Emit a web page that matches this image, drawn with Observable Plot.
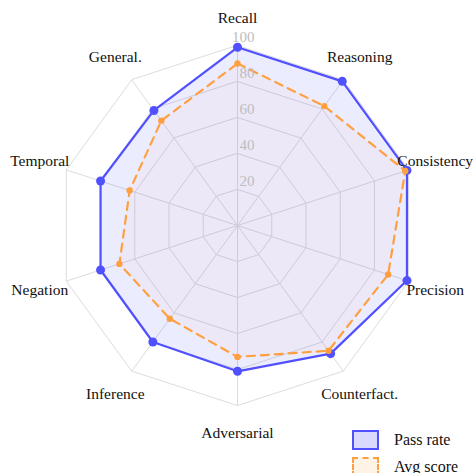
<!DOCTYPE html>
<html>
<head>
<meta charset="utf-8">
<script src="https://cdn.jsdelivr.net/npm/d3@7"></script>
<script src="https://cdn.jsdelivr.net/npm/@observablehq/plot@0.6"></script>
<style>
  html, body { margin: 0; padding: 0; background: #fff; }
  #wrap { position: relative; width: 473px; height: 473px; overflow: hidden; }
  #legend { position: absolute; left: 352px; top: 430px; font-family: "Liberation Serif", "Times New Roman", Times, serif; font-size: 16px; color: #111; }
  .row { display: flex; align-items: flex-start; height: 27px; line-height: 20px; }
  .sw { width: 27px; height: 20px; margin-right: 15px; box-sizing: border-box; }
  svg text { font-family: "Liberation Serif", "Times New Roman", Times, serif; }
</style>
</head>
<body>
<div id="wrap"></div>
<script>
const axes = ["Recall", "Reasoning", "Consistency", "Precision", "Counterfact.", "Adversarial", "Inference", "Negation", "Temporal", "General."];
const passRate = [99, 99, 99, 99, 88, 81, 80, 80, 80, 79];
const avgScore = [90, 82, 98, 88, 86, 73, 64, 69, 63, 72];
const tickValues = [20, 40, 60, 80, 100];
const seriesNames = ["Pass rate", "Avg score"];
const blue = "#5050ff";
const orange = "#ffa040";

const n = axes.length;
const ang = i => (i * 2 * Math.PI) / n;
const pt = (i, v) => ({ x: v * Math.sin(ang(i)), y: v * Math.cos(ang(i)) });

const rings = tickValues.flatMap(t => axes.map((a, i) => ({ ring: t, ...pt(i, t) })));
const spokes = axes.map((a, i) => ({ x1: 0, y1: 0, x2: pt(i, 100).x, y2: pt(i, 100).y }));
const labels = axes.map((a, i) => ({ label: a, ...pt(i, 115.5) }));
const passPts = passRate.map((v, i) => pt(i, v));
const avgPts = avgScore.map((v, i) => pt(i, v));
const tickPts = tickValues.map(t => ({ t, x: 0, y: t }));

const k = 1.8, cx = 237, cy = 225, W = 473, H = 473;
const serif = "'Liberation Serif', 'Times New Roman', Times, serif";

const chart = Plot.plot({
  width: W, height: H,
  margin: 0,
  x: { type: "linear", domain: [-cx / k, (W - cx) / k], range: [0, W], axis: null },
  y: { type: "linear", domain: [-(H - cy) / k, cy / k], range: [H, 0], axis: null },
  style: { fontFamily: serif, background: "transparent" },
  marks: [
    Plot.line(rings, { x: "x", y: "y", z: "ring", curve: "linear-closed", stroke: "#dcdcdc", strokeWidth: 1 }),
    Plot.link(spokes, { x1: "x1", y1: "y1", x2: "x2", y2: "y2", stroke: "#dcdcdc", strokeWidth: 1 }),
    Plot.line(passPts, { x: "x", y: "y", curve: "linear-closed", fill: blue, fillOpacity: 0.11, stroke: blue, strokeWidth: 2.2 }),
    Plot.dot(passPts, { x: "x", y: "y", r: 4.5, fill: blue, stroke: "none" }),
    Plot.line(avgPts, { x: "x", y: "y", curve: "linear-closed", fill: orange, fillOpacity: 0.04, stroke: orange, strokeWidth: 2.2, strokeDasharray: "8,6" }),
    Plot.dot(avgPts, { x: "x", y: "y", r: 3.2, fill: orange, stroke: "none" }),
    Plot.text(tickPts, { x: "x", y: "y", text: d => String(d.t), textAnchor: "end", dx: 17, dy: -8, fill: "#bdbdbd", fontSize: 15 }),
    Plot.text(labels, { x: "x", y: "y", text: "label", textAnchor: "middle", fill: "#111", fontSize: 15.5 })
  ]
});
document.getElementById("wrap").appendChild(chart);

const legend = document.createElement("div");
legend.id = "legend";
const styles = [
  `background: rgba(80,80,255,0.22); border: 2px solid ${blue};`,
  `background: rgba(255,160,64,0.13); border: 2px dashed ${orange};`
];
seriesNames.forEach((s, i) => {
  const row = document.createElement("div");
  row.className = "row";
  row.innerHTML = `<div class="sw" style="${styles[i]}"></div><span>${s}</span>`;
  legend.appendChild(row);
});
document.getElementById("wrap").appendChild(legend);
</script>
</body>
</html>
